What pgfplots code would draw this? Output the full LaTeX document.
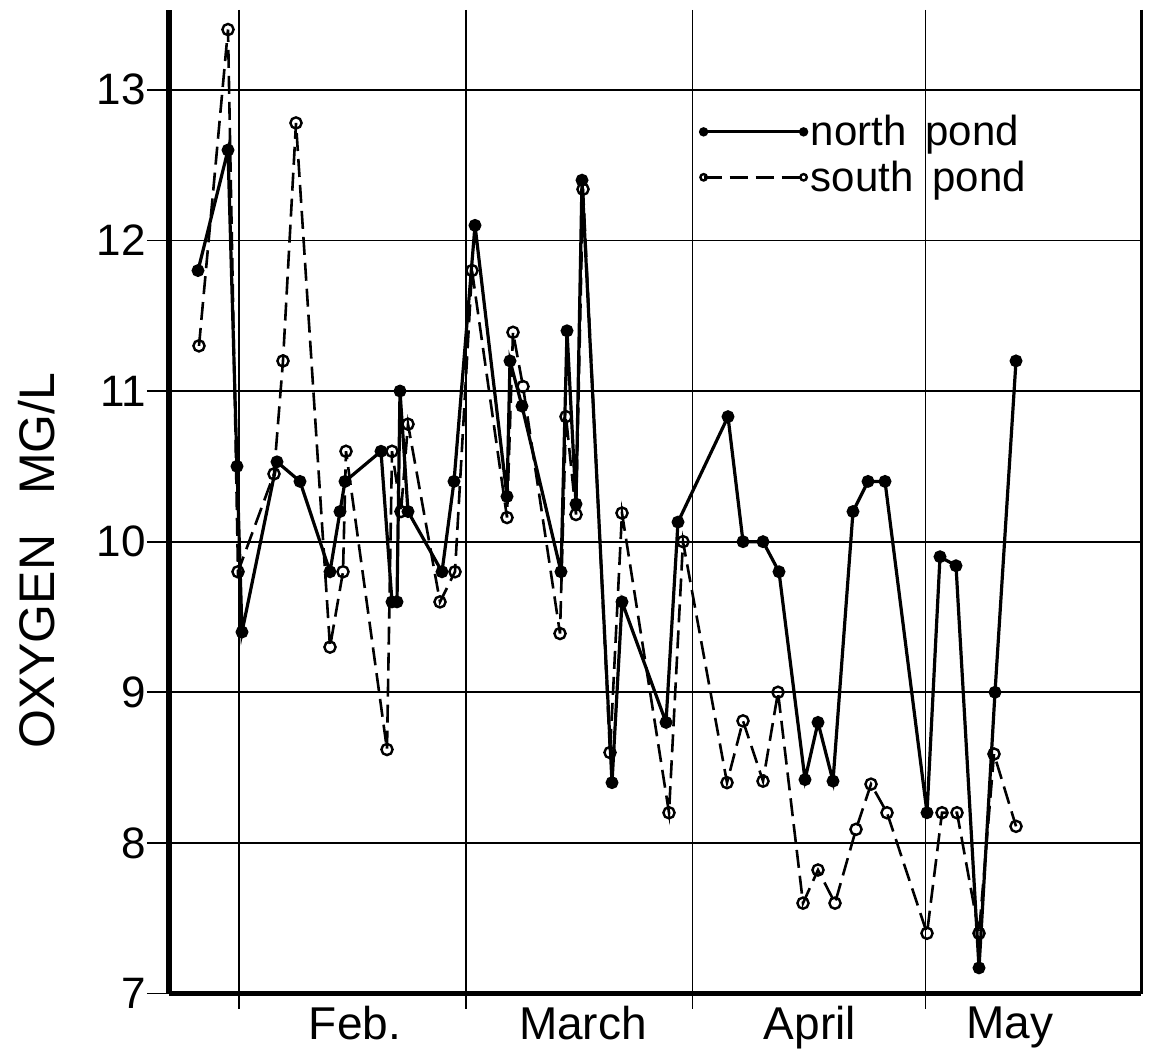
\documentclass[border=0pt]{standalone}
\usepackage{fontspec}
\setmainfont{Liberation Sans}
\usepackage{pgfplots}
\pgfplotsset{compat=1.18}
\pgfplotsset{
  mylegend/.style={legend image code/.code={\draw[##1, mark size=#1] plot coordinates {(0pt,0pt) (50pt,0pt)};}}
}
\begin{document}
\begin{tikzpicture}
\path[use as bounding box] (-84.5pt,-27.75pt) rectangle (493pt,496.75pt);
\begin{axis}[
  at={(0,0)}, anchor=south west, scale only axis,
  width=486pt, height=491.75pt,
  xmin=169, xmax=1141, ymin=7, ymax=13.53,
  axis x line*=bottom, axis y line*=left,
  x axis line style={line width=2.5pt,-},
  y axis line style={line width=3pt,-},
  /pgf/number format/assume math mode=true,
  ytick={7,8,9,10,11,12,13},
  ymajorgrids, major grid style={black, line width=0.9pt},
  tick align=outside,
  ytick style={black, line width=0.9pt},
  major tick length=11pt,
  xtick={355,583,810,1010},
  xticklabels={Feb.,March,April,May},
  xtick style={draw=none},
  yticklabel style={font=\fontsize{22}{22}\selectfont, xshift=3pt},
  xticklabel style={font=\fontsize{23}{23}\selectfont, yshift=8pt},
  ylabel={OXYGEN\hspace{0.8em}MG/L},
  ylabel style={font=\fontsize{25}{25}\selectfont, at={(axis description cs:-0.1358,0.44)}, anchor=center, rotate=0},
  legend style={at={(axis cs:700,12.57)}, anchor=west, draw=none, fill=none,
    font=\fontsize{21}{21}\selectfont, row sep=2pt, inner sep=0pt},
  legend cell align=left,
  clip=false,
]
% month boundary lines and right frame
\draw[line width=0.9pt] (axis cs:239,13.53) -- (axis cs:239,7) -- ++(0pt,-7.5pt);
\draw[line width=0.9pt] (axis cs:466,13.53) -- (axis cs:466,7) -- ++(0pt,-7.5pt);
\draw[line width=0.9pt] (axis cs:692.5,13.53) -- (axis cs:692.5,7) -- ++(0pt,-7.5pt);
\draw[line width=0.9pt] (axis cs:925.5,13.53) -- (axis cs:925.5,7) -- ++(0pt,-7.5pt);
\draw[line width=1.5pt] (axis cs:1141,13.53) -- (axis cs:1141,7);

\addplot[black, line width=1.6pt, mark=*, mark size=2.4pt, mylegend=1.5pt]
coordinates {
(198,11.8) (228,12.6) (237,10.5) (242,9.4) (277,10.53) (300,10.4) (330,9.8)
(340,10.2) (345,10.4) (381,10.6) (392,9.6) (397,9.6) (400,11.0) (408,10.2)
(442,9.8) (454,10.4) (475,12.1) (507,10.3) (510,11.2) (522,10.9) (561,9.8)
(567,11.4) (576,10.25) (582,12.4) (612,8.4) (622,9.6) (666,8.8) (678,10.13)
(728,10.83) (743,10.0) (763,10.0) (779,9.8) (805,8.42) (818,8.8) (833,8.41)
(853,10.2) (868,10.4) (885,10.4) (927,8.2) (940,9.9) (956,9.84) (979,7.17)
(995,9.0) (1016,11.2)
};
\addlegendentry{north\hspace{0.45em}pond}

\addplot[black, line width=1.3pt, dash pattern=on 9pt off 4pt, mark=o, mark size=2.8pt,
  mark options={solid, fill=white, line width=1.2pt}, mylegend=1.6pt]
coordinates {
(199,11.3) (228,13.4) (238,9.8) (274,10.45) (283,11.2) (296,12.78) (330,9.3)
(343,9.8) (346,10.6) (387,8.62) (392,10.6) (401,10.2) (408,10.78) (440,9.6)
(455,9.8) (472,11.8) (507,10.16) (513,11.39) (523,11.03) (560,9.39) (566,10.83)
(576,10.18) (583,12.34) (610,8.6) (622,10.19) (669,8.2) (683,10.0) (727,8.4)
(743,8.81) (763,8.41) (778,9.0) (803,7.6) (818,7.82) (835,7.6) (856,8.09)
(871,8.39) (887,8.2) (927,7.4) (942,8.2) (957,8.2) (979,7.4) (994,8.59)
(1016,8.11)
};
\addlegendentry{south\hspace{0.45em}pond}
\end{axis}
\end{tikzpicture}
\end{document}
